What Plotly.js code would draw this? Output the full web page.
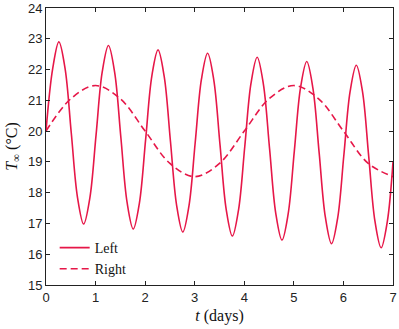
<!DOCTYPE html>
<html>
<head>
<meta charset="utf-8">
<script src="https://cdn.plot.ly/plotly-3.0.1.min.js"></script>
<style>
  html, body { margin: 0; padding: 0; background: #fff; }
  #chart { width: 399px; height: 329px; }
</style>
</head>
<body>
<div id="chart"></div>
<script>
// Left boundary: daily cycle, slowly drifting down
var tLeft = [
  0, 0.135, 0.26, 0.385, 0.51, 0.635, 0.76, 0.885,
  1.01, 1.135, 1.26, 1.385, 1.51, 1.635, 1.76, 1.885,
  2.01, 2.135, 2.26, 2.385, 2.51, 2.635, 2.76, 2.885,
  3.01, 3.135, 3.26, 3.385, 3.51, 3.635, 3.76, 3.885,
  4.01, 4.135, 4.26, 4.385, 4.51, 4.635, 4.76, 4.885,
  5.01, 5.135, 5.26, 5.385, 5.51, 5.635, 5.76, 5.885,
  6.01, 6.135, 6.26, 6.385, 6.51, 6.635, 6.76, 6.885,
  7.0
];
var tempLeft = [
  20.0, 22.03, 22.90, 22.03, 19.94, 17.85, 16.98, 17.83,
  19.88, 21.93, 22.78, 21.91, 19.80, 17.69, 16.82, 17.67,
  19.73, 21.79, 22.64, 21.77, 19.68, 17.59, 16.72, 17.58,
  19.63, 21.68, 22.53, 21.66, 19.56, 17.46, 16.59, 17.45,
  19.50, 21.55, 22.40, 21.53, 19.43, 17.33, 16.46, 17.31,
  19.36, 21.41, 22.26, 21.39, 19.30, 17.21, 16.34, 17.19,
  19.24, 21.29, 22.14, 21.28, 19.18, 17.08, 16.21, 17.06,
  19.0
];

// Right boundary: slow 4-day swing
var tRight = [0, 0.5, 1, 1.5, 2, 2.5, 3, 3.5, 4, 4.5, 5, 5.5, 6, 6.5, 7];
var tempRight = [20.0, 21.05, 21.48, 21.05, 20.0, 18.95, 18.52, 18.95,
                 20.0, 21.05, 21.48, 21.05, 20.0, 18.95, 18.52];

var xTicks = [0, 1, 2, 3, 4, 5, 6, 7];
var yTicks = [15, 16, 17, 18, 19, 20, 21, 22, 23, 24];

var red = 'rgb(230,23,72)';
var serif = 'Liberation Serif, Times New Roman, serif';

var left = {
  x: tLeft, y: tempLeft,
  type: 'scatter', mode: 'lines',
  line: { color: red, width: 1.6, shape: 'spline', smoothing: 1 },
  name: 'Left'
};

var right = {
  x: tRight, y: tempRight,
  type: 'scatter', mode: 'lines',
  line: { color: red, width: 1.6, shape: 'spline', smoothing: 1, dash: '7px,4px' },
  name: 'Right'
};

var axisCommon = {
  showgrid: false, zeroline: false,
  showline: true, linecolor: '#222', linewidth: 1,
  mirror: 'ticks', ticks: 'inside', ticklen: 4, tickcolor: '#222',
  ticklabeloverflow: 'allow',
  tickfont: { family: 'Liberation Sans, Arial, sans-serif', size: 13, color: '#222' }
};

var layout = {
  width: 399, height: 329,
  margin: { l: 46, r: 6, t: 8, b: 44 },
  paper_bgcolor: '#fff', plot_bgcolor: '#fff',
  showlegend: true,
  legend: {
    x: 0.025, y: 0.0, xanchor: 'left', yanchor: 'bottom',
    bgcolor: 'rgba(0,0,0,0)',
    font: { family: serif, size: 14, color: '#111' },
    itemwidth: 30, tracegroupgap: 0
  },
  xaxis: Object.assign({}, axisCommon, {
    range: [0, 7], tickvals: xTicks,
    title: { text: '<i>t</i> (days)', standoff: 6,
             font: { family: serif, size: 16, color: '#111' } }
  }),
  yaxis: Object.assign({}, axisCommon, {
    range: [15, 24], tickvals: yTicks,
    title: { text: '<i>T</i><sub>∞</sub> (°C)', standoff: 6,
             font: { family: serif, size: 16, color: '#111' } }
  })
};

Plotly.newPlot('chart', [left, right], layout, { displayModeBar: false, staticPlot: true });
</script>
</body>
</html>
